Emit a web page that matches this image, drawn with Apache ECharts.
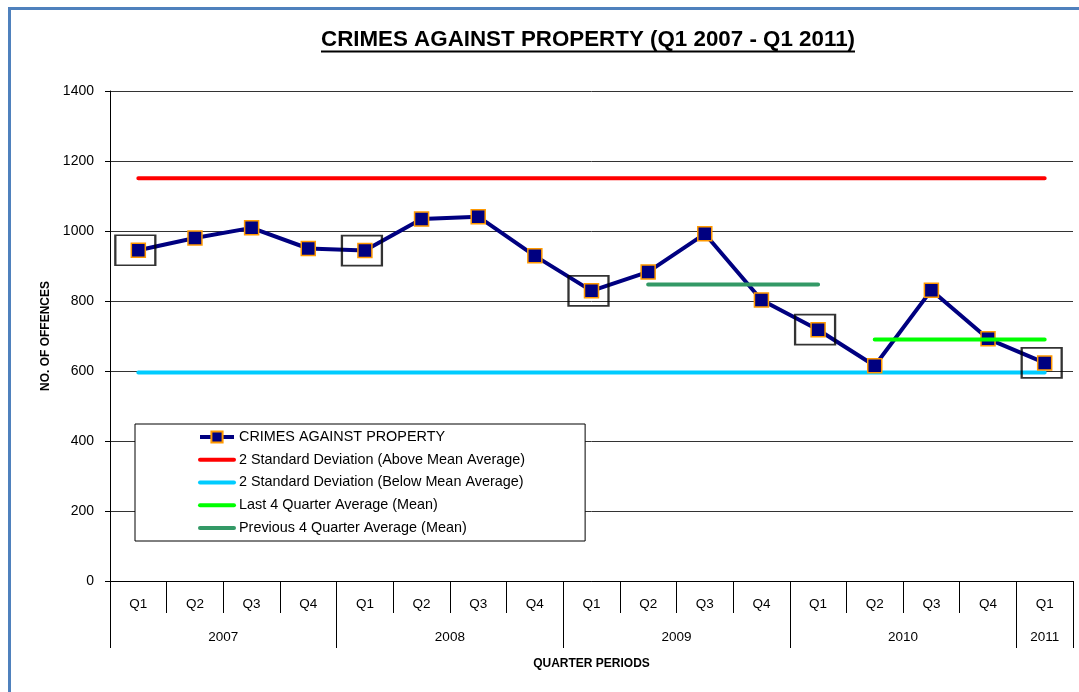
<!DOCTYPE html>
<html>
<head>
<meta charset="utf-8">
<script src="https://cdn.jsdelivr.net/npm/echarts@6/dist/echarts.min.js"></script>
<style>
	html, body { margin: 0; padding: 0; background: #fff; }
	#chart { width: 1079px; height: 692px; }
</style>
</head>
<body>
<div id="chart"></div>
<script>
// quarter categories and year groups
const quarters = ['Q1', 'Q2', 'Q3', 'Q4', 'Q1', 'Q2', 'Q3', 'Q4', 'Q1', 'Q2', 'Q3', 'Q4', 'Q1', 'Q2', 'Q3', 'Q4', 'Q1']
const years = ['2007', '2008', '2009', '2010', '2011']
const yearCenters = [2, 6, 10, 14, 16.5]
const yearBounds = [0, 4, 8, 12, 16, 17]

// offences per quarter
const crimes = [945, 980, 1009, 950, 944, 1034, 1041, 929, 829, 883, 992, 803, 718, 615, 831, 692, 623]

// reference lines
const upper2sd = [1151, 1151, 1151, 1151, 1151, 1151, 1151, 1151, 1151, 1151, 1151, 1151, 1151, 1151, 1151, 1151, 1151]
const lower2sd = [596, 596, 596, 596, 596, 596, 596, 596, 596, 596, 596, 596, 596, 596, 596, 596, 596]
const lastAvg = [null, null, null, null, null, null, null, null, null, null, null, null, null, 690, 690, 690, 690]
const prevAvg = [null, null, null, null, null, null, null, null, null, 847, 847, 847, 847, null, null, null, null]

// Q1 points get a box round them
const q1Boxes = crimes.map((v, i) => (i % 4 === 0 ? v : null))

const titleText = 'CRIMES AGAINST PROPERTY (Q1 2007 - Q1 2011)'

$chart = () => {
	var chart = echarts.init(document.getElementById('chart'))
	const font = "'Liberation Sans', Arial, sans-serif"

	// squeeze the title to the narrow look of the original
	const ctx = document.createElement('canvas').getContext('2d')
	ctx.font = "bold 22px 'Liberation Sans'"
	const titleScale = 534 / ctx.measureText(titleText).width

	// legend entries: plain lines have no symbol in the legend
	const lineEntry = (name) => ({ name: name, itemStyle: { opacity: 0 }, lineStyle: { width: 4 } })

	const option = {
		animation: false,
		textStyle: { fontFamily: font },
		graphic: [
			{
				type: 'text',
				x: 588,
				y: 29,
				scaleX: titleScale,
				style: { text: titleText, font: "bold 22px 'Liberation Sans'", fill: '#000', align: 'center', verticalAlign: 'top' },
			},
			{ type: 'line', shape: { x1: 321, y1: 51.5, x2: 855, y2: 51.5 }, style: { stroke: '#000', lineWidth: 2 } },
			{ type: 'line', shape: { x1: 8, y1: 8.5, x2: 1079, y2: 8.5 }, style: { stroke: '#4F81BD', lineWidth: 3 } },
			{ type: 'line', shape: { x1: 9.5, y1: 7, x2: 9.5, y2: 692 }, style: { stroke: '#4F81BD', lineWidth: 3 } },
		],
		legend: {
			orient: 'vertical',
			left: 135,
			top: 424,
			padding: [6, 60, 6, 63],
			itemGap: 8.75,
			itemWidth: 34,
			itemHeight: 14,
			backgroundColor: '#fff',
			borderColor: '#000',
			borderWidth: 1,
			textStyle: { fontFamily: font, fontSize: 14.4, lineHeight: 14, color: '#000' },
			data: [
				{ name: 'CRIMES AGAINST PROPERTY', lineStyle: { width: 4 } },
				lineEntry('2 Standard Deviation (Above Mean Average)'),
				lineEntry('2 Standard Deviation (Below Mean Average)'),
				lineEntry('Last 4 Quarter Average (Mean)'),
				lineEntry('Previous 4 Quarter Average (Mean)'),
			],
		},
		grid: { left: 110, right: 6, top: 91, bottom: 111 },
		xAxis: [
			{
				type: 'category',
				data: quarters,
				position: 'bottom',
				boundaryGap: true,
				axisLine: { lineStyle: { color: '#000', width: 1 } },
				axisTick: { show: true, interval: 0, length: 32, lineStyle: { color: '#000' } },
				axisLabel: { interval: 0, margin: 16, fontSize: 13.5, color: '#000', fontFamily: font },
				name: 'QUARTER PERIODS',
				nameLocation: 'middle',
				nameGap: 77,
				nameTextStyle: { fontSize: 12, fontWeight: 'bold', color: '#000', fontFamily: font },
			},
			{
				type: 'value',
				min: 0,
				max: 17,
				position: 'bottom',
				axisLine: { show: false },
				splitLine: { show: false },
				axisTick: { show: true, customValues: yearBounds, length: 67, lineStyle: { color: '#000' } },
				axisLabel: {
					customValues: yearCenters,
					margin: 49,
					fontSize: 13.5,
					color: '#000',
					fontFamily: font,
					formatter: (v) => years[yearCenters.indexOf(v)],
				},
			},
		],
		yAxis: {
			type: 'value',
			min: 0,
			max: 1400,
			interval: 200,
			axisLine: { show: true, lineStyle: { color: '#000' } },
			axisTick: { show: true, length: 5, lineStyle: { color: '#000' } },
			axisLabel: { margin: 16, fontSize: 14, color: '#000', fontFamily: font, formatter: (v) => String(v) },
			splitLine: { show: true, lineStyle: { color: '#333', width: 1 } },
			name: 'NO. OF OFFENCES',
			nameLocation: 'middle',
			nameGap: 58,
			nameTextStyle: { fontSize: 12, fontWeight: 'bold', color: '#000', fontFamily: font },
		},
		series: [
			{
				name: 'CRIMES AGAINST PROPERTY',
				type: 'line',
				data: crimes,
				z: 4,
				symbol: 'rect',
				symbolSize: 14,
				lineStyle: { color: '#000080', width: 4 },
				itemStyle: { color: '#000080', borderColor: '#FF9900', borderWidth: 1.5 },
			},
			{
				name: '2 Standard Deviation (Above Mean Average)',
				type: 'line',
				data: upper2sd,
				z: 2,
				symbol: 'none',
				lineStyle: { color: '#FF0000', width: 4, cap: 'round' },
				itemStyle: { color: '#FF0000' },
			},
			{
				name: '2 Standard Deviation (Below Mean Average)',
				type: 'line',
				data: lower2sd,
				z: 2,
				symbol: 'none',
				lineStyle: { color: '#00CCFF', width: 4, cap: 'round' },
				itemStyle: { color: '#00CCFF' },
			},
			{
				name: 'Last 4 Quarter Average (Mean)',
				type: 'line',
				data: lastAvg,
				z: 5,
				symbol: 'none',
				lineStyle: { color: '#00FF00', width: 4, cap: 'round' },
				itemStyle: { color: '#00FF00' },
			},
			{
				name: 'Previous 4 Quarter Average (Mean)',
				type: 'line',
				data: prevAvg,
				z: 5,
				symbol: 'none',
				lineStyle: { color: '#339966', width: 4, cap: 'round' },
				itemStyle: { color: '#339966' },
			},
			{
				name: 'Q1 box',
				type: 'scatter',
				data: q1Boxes,
				z: 6,
				symbol: 'rect',
				symbolSize: [40, 30],
				symbolOffset: [-3, 0],
				itemStyle: { color: 'transparent', borderColor: '#000', borderWidth: 2 },
			},
		],
	}

	chart.setOption(option)
}

$chart()
</script>
</body>
</html>
